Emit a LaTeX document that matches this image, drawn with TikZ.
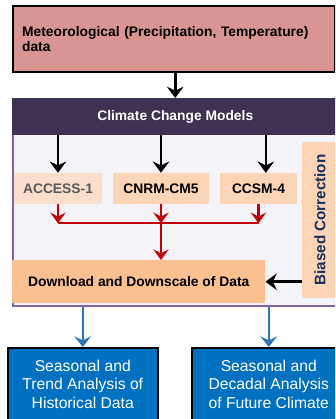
\documentclass[tikz,border=0pt]{standalone}
\usepackage{fontspec}
\setmainfont{Liberation Sans}
\usepackage{tikz}
\usetikzlibrary{arrows.meta,positioning}
\definecolor{Rose}{HTML}{D99594}
\definecolor{Plum}{HTML}{3F3151}
\definecolor{Lilac}{HTML}{8064A2}
\definecolor{Mist}{HTML}{F4F3F7}
\definecolor{Apricot}{HTML}{FBD5B5}
\definecolor{PaleApricot}{HTML}{F9DECC}
\definecolor{Peach}{HTML}{FAC090}
\definecolor{Navy}{HTML}{17305E}
\definecolor{DarkRed}{HTML}{C00000}
\definecolor{Ocean}{HTML}{0070C0}
\definecolor{Steel}{HTML}{2E75B6}

\begin{document}
\begin{tikzpicture}[x=0.03cm,y=-0.03cm,
    bold/.style={font=\fontsize{11.8}{12.8}\selectfont\bfseries},
    metbox/.style={rectangle,draw=black,line width=1.3pt,fill=Rose,bold,align=left,inner xsep=0.28cm,text width=9.1cm,minimum height=1.98cm},
    panel/.style={rectangle,draw=Lilac,line width=1.6pt,fill=Mist,minimum width=9.78cm,minimum height=6.21cm},
    header/.style={rectangle,fill=Plum,text=white,bold,minimum width=9.78cm,minimum height=1.11cm},
    model/.style={rectangle,fill=Apricot,bold,minimum height=0.93cm},
    dlbox/.style={rectangle,fill=Peach,bold,minimum width=7.59cm,minimum height=1.29cm},
    biasbox/.style={rectangle,fill=Apricot,text=Navy,font=\fontsize{13}{15}\selectfont\bfseries,minimum width=1.08cm,minimum height=4.68cm},
    outbox/.style={rectangle,draw=black,line width=1.3pt,fill=Ocean,text=white,align=center,font=\fontsize{13.4}{16}\selectfont,minimum height=2.19cm},
    arrow/.style={-{Stealth[length=3.4mm,width=5mm,inset=1.2mm]},line width=2.2pt,draw=black},
    redarrow/.style={-{Stealth[length=3.2mm,width=4.6mm,inset=1.2mm]},line width=2pt,draw=DarkRed},
    redline/.style={line width=2pt,draw=DarkRed},
    bluearrow/.style={-{Stealth[length=3.2mm,width=5mm,inset=1.2mm]},line width=2pt,draw=Steel}
]
\useasboundingbox (0,0) rectangle (335,419);
\clip (0,0) rectangle (335,419);

\node[metbox,anchor=north west] (met) at (12,5) {Meteorological (Precipitation, Temperature)\\data};

% models panel
\node[panel,anchor=north west] (box) at (12,98) {};
\node[header,anchor=north west] (hdr) at (12,98) {Climate Change Models};
\node[model,fill=PaleApricot,text=black!65,minimum width=2.64cm] (acc) at (58,188.5) {ACCESS-1};
\node[model,minimum width=2.88cm] (cnrm) at (161,188.5) {CNRM-CM5};
\node[model,minimum width=2.31cm] (ccsm) at (258.5,188.5) {CCSM-4};
\node[dlbox,anchor=north west] (dl) at (12,260) {Download and Downscale of Data};
\node[biasbox] (bias) at (320,220) {\rotatebox{90}{Biased Correction}};

\node[outbox,anchor=north west,minimum width=4.5cm] (hist) at (7,347) {Seasonal and\\Trend Analysis of\\Historical Data};
\node[outbox,anchor=north west,minimum width=4.62cm] (fut) at (191,347) {Seasonal and\\Decadal Analysis\\of Future Climate};

\coordinate (join) at ([yshift=-0.57cm]cnrm.south);

\draw[arrow] (met.south -| hdr.north) -- (hdr.north);
\draw[arrow] (acc.north |- hdr.south) -- (acc.north);
\draw[arrow] (cnrm.north |- hdr.south) -- (cnrm.north);
\draw[arrow] ([xshift=0.22cm]ccsm.north |- hdr.south) -- ([xshift=0.22cm]ccsm.north);

\draw[redline] (acc.south |- join) -- (ccsm.south |- join);
\draw[redarrow] (acc.south) -- (acc.south |- join);
\draw[redarrow] (cnrm.south) -- (join);
\draw[redarrow] (ccsm.south) -- (ccsm.south |- join);
\draw[redarrow] (join) -- (join |- dl.north);

\draw[arrow] (bias.west |- dl.east) -- (dl.east);

\draw[bluearrow] (hist.north |- box.south) -- (hist.north);
\draw[bluearrow] (fut.north |- box.south) -- (fut.north);
\end{tikzpicture}
\end{document}
